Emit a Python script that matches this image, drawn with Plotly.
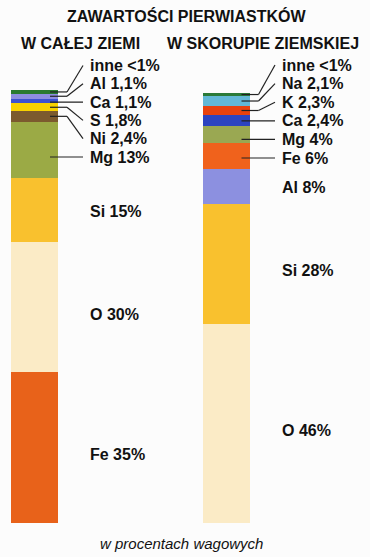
import plotly.graph_objects as go

# ---------------- data ----------------
TITLE = "ZAWARTOŚCI PIERWIASTKÓW"
CATEGORIES = ["W CAŁEJ ZIEMI", "W SKORUPIE ZIEMSKIEJ"]
NOTE = "w procentach wagowych"

# stacked bottom -> top
EARTH_ELEMENTS = ["Fe", "O", "Si", "Mg", "Ni", "S", "Ca", "Al", "inne"]
EARTH_VALUES = [35, 30, 15, 13, 2.4, 1.8, 1.1, 1.1, 0.9]
EARTH_LABELS = ["Fe 35%", "O 30%", "Si 15%", "Mg 13%", "Ni 2,4%", "S 1,8%",
                "Ca 1,1%", "Al 1,1%", "inne <1%"]

CRUST_ELEMENTS = ["O", "Si", "Al", "Fe", "Mg", "Ca", "K", "Na", "inne"]
CRUST_VALUES = [46, 28, 8, 6, 4, 2.4, 2.3, 2.1, 0.9]
CRUST_LABELS = ["O 46%", "Si 28%", "Al 8%", "Fe 6%", "Mg 4%", "Ca 2,4%",
                "K 2,3%", "Na 2,1%", "inne <1%"]

# ---------------- styles ----------------
EARTH_COLORS = ["#E8621A", "#FBEBC6", "#F9C12E", "#9BAA45", "#7C5A2E",
                "#F8D200", "#3D52D0", "#8E8EE0", "#2A7A30"]
CRUST_COLORS = ["#FBEBC6", "#F9C12E", "#8C90E0", "#F0621C", "#9AA852",
                "#2C44C0", "#E8420E", "#62B8D6", "#2A7A38"]

SERIES = [
    (CATEGORIES[0], EARTH_VALUES, EARTH_LABELS, EARTH_COLORS, 3),  # first 3 labelled directly
    (CATEGORIES[1], CRUST_VALUES, CRUST_LABELS, CRUST_COLORS, 3),
]

# page geometry (body margin removed via post_script)
W, H = 370, 557
PLOT_TOP_PX, PLOT_BOT_PX = 90, 523
M_TOP = PLOT_TOP_PX
M_BOT = H - PLOT_BOT_PX
PLOT_H = PLOT_BOT_PX - PLOT_TOP_PX
BAR_CENTERS_PX = [34.5, 226.0]
UNIT_PX = BAR_CENTERS_PX[1] - BAR_CENTERS_PX[0]
X_RANGE = [-BAR_CENTERS_PX[0] / UNIT_PX, (W - BAR_CENTERS_PX[0]) / UNIT_PX]
BAR_W_PX = 47
BAR_W = BAR_W_PX / UNIT_PX
Y_TOP = 100.3
PX_PER_PCT = PLOT_H / Y_TOP

FONT = "Liberation Sans, Arial, sans-serif"
LABEL_FONT = dict(family=FONT, size=16, color="#111111")


def px_x(px):
    """page px -> paper x"""
    return px / W


def px_y(py):
    """page px -> paper y"""
    return (PLOT_BOT_PX - py) / PLOT_H


def data_to_py(v):
    return PLOT_BOT_PX - v * PX_PER_PCT


fig = go.Figure()
annotations = []
shapes = []

LABEL_X_PX = [88, 280]
FIRST_CALLOUT_PX = [157, 158]
CALLOUT_STEP_PX = [18.3, 18.6]

for i, (cat, vals, labels, colors, n_direct) in enumerate(SERIES):
    for v, c, lab in zip(vals, colors, labels):
        fig.add_trace(go.Bar(x=[cat], y=[v], width=BAR_W, marker=dict(color=c, line=dict(width=0)),
                             name=lab, showlegend=False, hovertemplate=lab + "<extra></extra>"))
    bar_c = BAR_CENTERS_PX[i]
    lx = LABEL_X_PX[i]
    bottoms = [sum(vals[:k]) for k in range(len(vals))]
    for k, (v, lab) in enumerate(zip(vals, labels)):
        lo, hi = bottoms[k], bottoms[k] + v
        py_lo, py_hi = data_to_py(lo), data_to_py(hi)
        py_mid = (py_lo + py_hi) / 2
        if k < n_direct:
            ly = py_mid + (7 if v > 20 else 1)
            annotations.append(dict(x=px_x(lx), y=px_y(ly), xref="paper", yref="paper",
                                    text="<b>" + lab + "</b>", showarrow=False,
                                    xanchor="left", yanchor="middle", font=LABEL_FONT))
            continue
        j = k - n_direct
        ly = FIRST_CALLOUT_PX[i] - j * CALLOUT_STEP_PX[i]
        annotations.append(dict(x=px_x(lx), y=px_y(ly), xref="paper", yref="paper",
                                text="<b>" + lab + "</b>", showarrow=False,
                                xanchor="left", yanchor="middle", font=LABEL_FONT))
        xs = px_x(bar_c + BAR_W_PX / 2 - 8)
        xe = px_x(lx - 5)
        line = dict(color="#222222", width=1.2)
        if py_hi <= ly <= py_lo:
            shapes.append(dict(type="line", xref="paper", yref="paper", x0=xs, x1=xe,
                               y0=px_y(ly), y1=px_y(ly), line=line))
        else:
            xk = px_x(bar_c + BAR_W_PX / 2 + 9)
            shapes.append(dict(type="line", xref="paper", yref="paper", x0=xs, x1=xk,
                               y0=px_y(py_mid), y1=px_y(py_mid), line=line))
            shapes.append(dict(type="line", xref="paper", yref="paper", x0=xk, x1=xe,
                               y0=px_y(py_mid), y1=px_y(ly), line=line))

HEAD_FONT = dict(family=FONT, size=16, color="#111111")
annotations.append(dict(x=px_x(187), y=px_y(16), xref="paper", yref="paper", text="<b>" + TITLE + "</b>",
                        showarrow=False, xanchor="center", yanchor="middle", font=HEAD_FONT))
for cx, cat in zip([80, 262.5], CATEGORIES):
    annotations.append(dict(x=px_x(cx), y=px_y(43), xref="paper", yref="paper", text="<b>" + cat + "</b>",
                            showarrow=False, xanchor="center", yanchor="middle", font=HEAD_FONT))
annotations.append(dict(x=px_x(181), y=px_y(543), xref="paper", yref="paper", text="<i>" + NOTE + "</i>",
                        showarrow=False, xanchor="center", yanchor="middle",
                        font=dict(family=FONT, size=15, color="#111111")))

fig.update_layout(
    width=W, height=H,
    margin=dict(l=0, r=0, t=M_TOP, b=M_BOT, pad=0),
    barmode="stack",
    bargap=0,
    paper_bgcolor="#FCFCFC",
    plot_bgcolor="#FCFCFC",
    xaxis=dict(type="category", categoryarray=CATEGORIES, range=X_RANGE, visible=False, fixedrange=True),
    yaxis=dict(range=[0, Y_TOP], visible=False, fixedrange=True),
    annotations=annotations,
    shapes=shapes,
)

fig.write_html("out.html",
               config={"displayModeBar": False},
               post_script="document.body.style.margin='0';document.body.style.overflow='hidden';")
